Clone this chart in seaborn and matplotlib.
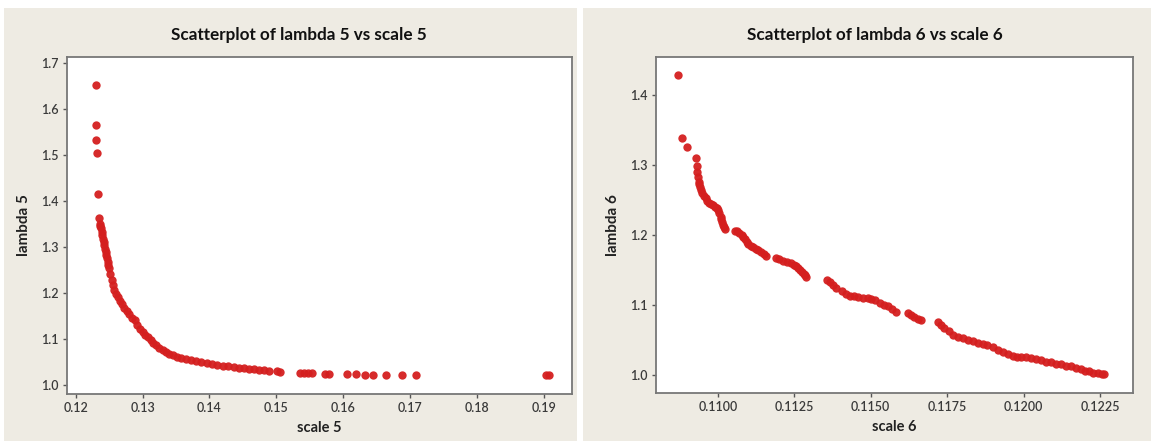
import matplotlib
matplotlib.use("Agg")
import matplotlib.pyplot as plt
import seaborn as sns
import pandas as pd
from matplotlib.patches import Rectangle

# ---- data ----
scale5 = [0.1230, 0.1230, 0.1230, 0.1232, 0.1233, 0.1235,
          0.1236, 0.1237, 0.1238, 0.1239, 0.1240, 0.1241, 0.1242, 0.1243, 0.1244, 0.1245,
          0.1246, 0.1247, 0.1248, 0.1249, 0.1250, 0.1252, 0.1254, 0.1256, 0.1258, 0.1260,
          0.1263, 0.1266, 0.1269, 0.1272, 0.1276, 0.1280, 0.1284, 0.1288, 0.1292, 0.1296,
          0.1300, 0.1304, 0.1308, 0.1312, 0.1316, 0.1320, 0.1325, 0.1330, 0.1335, 0.1340,
          0.1346, 0.1352, 0.1358, 0.1365, 0.1372, 0.1380, 0.1388, 0.1396, 0.1404, 0.1412,
          0.1420, 0.1428, 0.1436, 0.1444, 0.1451, 0.1459, 0.1466, 0.1474, 0.1481, 0.1489,
          0.1501, 0.1506,
          0.1535, 0.1541, 0.1548, 0.1554, 0.1572, 0.1578, 0.1606, 0.1619, 0.1632, 0.1644,
          0.1664, 0.1688, 0.1709, 0.1903, 0.1908]
lambda5 = [1.652, 1.566, 1.532, 1.504, 1.414, 1.362,
           1.350, 1.345, 1.340, 1.333, 1.326, 1.318, 1.310, 1.303, 1.296, 1.289,
           1.282, 1.275, 1.268, 1.261, 1.254, 1.240, 1.228, 1.216, 1.206, 1.198,
           1.190, 1.182, 1.175, 1.168, 1.160, 1.153, 1.146, 1.140, 1.129, 1.122,
           1.115, 1.109, 1.103, 1.097, 1.090, 1.086, 1.080, 1.076, 1.072, 1.068,
           1.064, 1.061, 1.059, 1.057, 1.053, 1.051, 1.049, 1.047, 1.045, 1.043,
           1.041, 1.040, 1.038, 1.037, 1.036, 1.035, 1.034, 1.033, 1.032, 1.031,
           1.030, 1.028,
           1.026, 1.026, 1.025, 1.025, 1.024, 1.024, 1.023, 1.023, 1.022, 1.022,
           1.021, 1.021, 1.021, 1.022, 1.022]

scale6 = [0.10870, 0.10882, 0.10898, 0.10929, 0.10931, 0.10933, 0.10935, 0.10937, 0.10939, 0.10942,
          0.10946, 0.10950, 0.10955, 0.10960, 0.10966, 0.10971, 0.10978, 0.10985, 0.10992, 0.10998,
          0.11002, 0.11005, 0.11009, 0.11012, 0.11015, 0.11018, 0.11021, 0.11024,
          0.11056, 0.11063, 0.11070, 0.11078, 0.11083, 0.11088, 0.11094, 0.11099, 0.11108, 0.11116,
          0.11124, 0.11132, 0.11143, 0.11152, 0.11159, 0.11189, 0.11200, 0.11213, 0.11227, 0.11241,
          0.11248, 0.11255, 0.11262, 0.11268, 0.11275, 0.11281, 0.11286, 0.11290,
          0.11358, 0.11366, 0.11378, 0.11388, 0.11405, 0.11420, 0.11431, 0.11445, 0.11458, 0.11475,
          0.11491, 0.11502, 0.11513, 0.11529, 0.11545, 0.11556, 0.11570, 0.11584, 0.11622, 0.11633,
          0.11643, 0.11655, 0.11665,
          0.11719, 0.11730, 0.11741, 0.11755, 0.11768, 0.11785, 0.11801, 0.11818, 0.11834, 0.11850,
          0.11866, 0.11882, 0.11899, 0.11915, 0.11932, 0.11948, 0.11964, 0.11978, 0.11992, 0.12008,
          0.12024, 0.12040, 0.12057, 0.12073, 0.12090, 0.12106, 0.12122, 0.12138, 0.12155, 0.12171,
          0.12188, 0.12201, 0.12215, 0.12228, 0.12242, 0.12255, 0.12264]
lambda6 = [1.428, 1.338, 1.325, 1.310, 1.298, 1.290, 1.283, 1.276, 1.272, 1.268,
           1.264, 1.260, 1.256, 1.252, 1.248, 1.245, 1.244, 1.243, 1.240, 1.238,
           1.235, 1.231, 1.226, 1.222, 1.218, 1.214, 1.211, 1.208,
           1.206, 1.205, 1.203, 1.200, 1.197, 1.194, 1.190, 1.187, 1.184, 1.182,
           1.180, 1.179, 1.175, 1.172, 1.170, 1.167, 1.165, 1.162, 1.161, 1.160,
           1.157, 1.155, 1.152, 1.150, 1.147, 1.144, 1.142, 1.140,
           1.136, 1.132, 1.128, 1.124, 1.120, 1.116, 1.113, 1.112, 1.111, 1.110,
           1.110, 1.108, 1.107, 1.103, 1.100, 1.098, 1.094, 1.090, 1.088, 1.085,
           1.083, 1.080, 1.078,
           1.076, 1.071, 1.067, 1.062, 1.057, 1.054, 1.052, 1.050, 1.049, 1.046,
           1.044, 1.042, 1.040, 1.036, 1.033, 1.030, 1.027, 1.026, 1.026, 1.025,
           1.024, 1.022, 1.021, 1.019, 1.018, 1.016, 1.015, 1.013, 1.012, 1.010,
           1.008, 1.006, 1.005, 1.003, 1.002, 1.001, 1.001]

xticks5 = [0.12, 0.13, 0.14, 0.15, 0.16, 0.17, 0.18, 0.19]
yticks5 = [1.0, 1.1, 1.2, 1.3, 1.4, 1.5, 1.6, 1.7]
xticks6 = [0.1100, 0.1125, 0.1150, 0.1175, 0.1200, 0.1225]
yticks6 = [1.0, 1.1, 1.2, 1.3, 1.4]

titles = ["Scatterplot of lambda 5 vs scale 5", "Scatterplot of lambda 6 vs scale 6"]
xlabels = ["scale 5", "scale 6"]
ylabels = ["lambda 5", "lambda 6"]

df5 = pd.DataFrame({"x": scale5, "y": lambda5})
df6 = pd.DataFrame({"x": scale6, "y": lambda6})

sns.set_style("white")
plt.rcParams["font.family"] = ["Lato", "DejaVu Sans"]

W, H = 1156, 441
fig = plt.figure(figsize=(W / 100, H / 100), dpi=100, facecolor="white")

panel_bg = "#eeebe3"
fig.patches.append(Rectangle((4 / W, 0), 573 / W, 1 - 8 / H, transform=fig.transFigure,
                             facecolor=panel_bg, edgecolor="none", zorder=-10))
fig.patches.append(Rectangle((583 / W, 0), 568 / W, 1 - 8 / H, transform=fig.transFigure,
                             facecolor=panel_bg, edgecolor="none", zorder=-10))

ax1 = fig.add_axes([67 / W, 1 - 394 / H, (572 - 67) / W, (394 - 57) / H])
ax2 = fig.add_axes([656 / W, 1 - 393 / H, (1133 - 656) / W, (393 - 57) / H])

red = "#d41f1f"
sns.scatterplot(data=df5, x="x", y="y", ax=ax1, color=red, s=36, linewidth=0, alpha=0.95)
sns.scatterplot(data=df6, x="x", y="y", ax=ax2, color=red, s=36, linewidth=0, alpha=0.95)

ax1.set_xlim(0.1187, 0.1942)
ax1.set_ylim(0.980, 1.713)
ax2.set_xlim(0.10798, 0.12358)
ax2.set_ylim(0.974, 1.454)

ax1.set_xticks(xticks5)
ax1.set_xticklabels([f"{v:.2f}" for v in xticks5])
ax1.set_yticks(yticks5)
ax1.set_yticklabels([f"{v:.1f}" for v in yticks5])
ax2.set_xticks(xticks6)
ax2.set_xticklabels([f"{v:.4f}" for v in xticks6])
ax2.set_yticks(yticks6)
ax2.set_yticklabels([f"{v:.1f}" for v in yticks6])

title_x = [0.46, 0.458]
for i, ax in enumerate([ax1, ax2]):
    ax.set_facecolor("white")
    for sp in ax.spines.values():
        sp.set_color("#777777")
        sp.set_linewidth(1.3)
    ax.tick_params(axis="both", which="major", direction="out", length=3, width=1,
                   color="#555555", labelsize=9, labelcolor="#3a3a3a", pad=3,
                   left=True, bottom=True)
    for lab in ax.get_xticklabels() + ax.get_yticklabels():
        lab.set_fontweight("semibold")
    ax.set_title(titles[i], fontsize=12.3, fontweight="bold", color="#111111", pad=12,
                 x=title_x[i])
    ax.set_xlabel(xlabels[i], fontsize=10.5, fontweight="bold", color="#222222", labelpad=5)
    ax.set_ylabel(ylabels[i], fontsize=11, fontweight="bold", color="#222222", labelpad=7)

fig.savefig("out.png", dpi=100, facecolor="white")
